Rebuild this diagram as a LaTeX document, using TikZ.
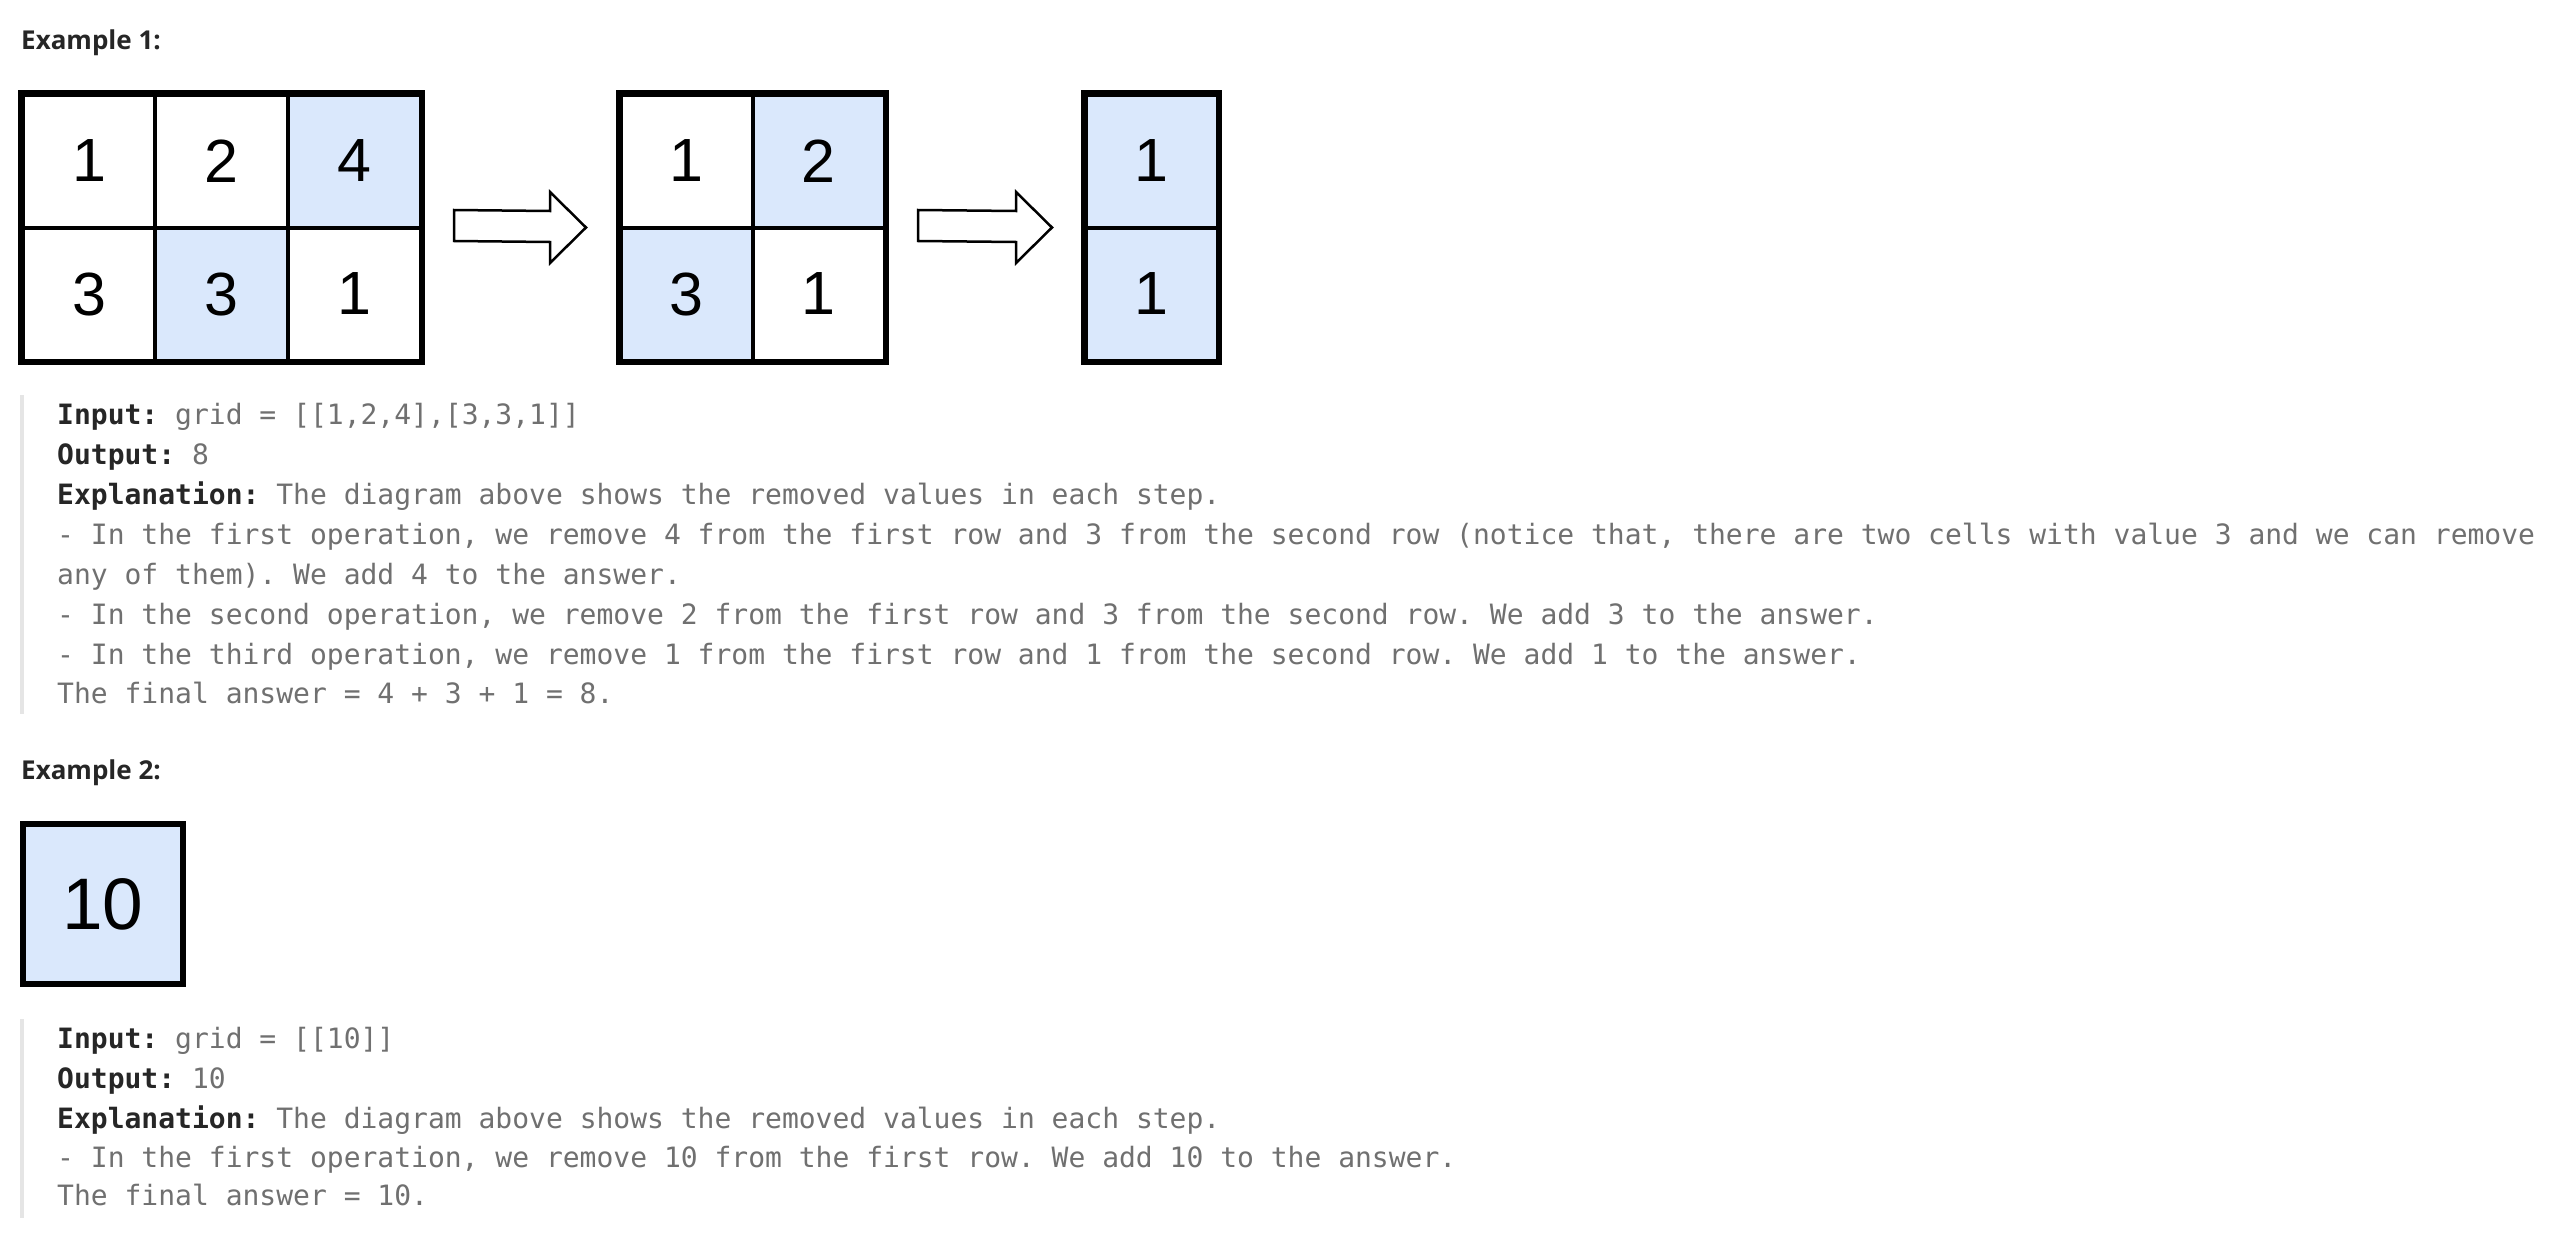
\documentclass[tikz,border=0pt]{standalone}
\usepackage{fontspec}
\setmainfont{Liberation Sans}
\newfontfamily\headfont{Open Sans}
\newfontfamily\codefont{DejaVu Sans Mono}
\newfontfamily\cellfont{Liberation Sans}
\definecolor{cellblue}{RGB}{218,232,252}
\definecolor{txtgray}{RGB}{112,112,112}
\definecolor{txtdark}{RGB}{38,38,38}
\definecolor{bargray}{RGB}{229,229,229}
\frenchspacing
\tikzset{
  heading/.style={anchor=base west,inner sep=0pt,font=\headfont\bfseries\fontsize{26}{26}\selectfont,text=txtdark},
  codeline/.style={anchor=base west,inner sep=0pt,font=\codefont\fontsize{28}{28}\selectfont,text=txtgray},
  cellbox/.style={draw=black,line width=4pt,minimum width=132.7pt,minimum height=133pt,inner sep=0pt,font=\cellfont\fontsize{61}{61}\selectfont},
  cellbox2/.style={draw=black,line width=4pt,minimum width=132pt,minimum height=133pt,inner sep=0pt,font=\cellfont\fontsize{61}{61}\selectfont},
  blockarrow/.style={draw=black,line width=2.5pt,fill=white,line join=miter},
  quotebar/.style={fill=bargray,draw=none}
}
\newcommand{\lbl}[1]{{\color{txtdark}\bfseries #1}}
\begin{document}
\begin{tikzpicture}[x=1pt,y=-1pt]
\useasboundingbox (0,0) rectangle (2549,1239);
\fill[white] (0,0) rectangle (2549,1239);

% ---------- Example 1 ----------
\node[heading] (h1) at (21,50) {Example 1:};

% grid 1 (3x2)
\node[cellbox,fill=white]     (g11) at (89.2,161) {1};
\node[cellbox,fill=white]     (g12) at (221.8,161) {2};
\node[cellbox,fill=cellblue]  (g13) at (354.2,161) {4};
\node[cellbox,fill=white]     (g21) at (89.2,294) {3};
\node[cellbox,fill=cellblue]  (g22) at (221.8,294) {3};
\node[cellbox,fill=white]     (g23) at (354.2,294) {1};
\draw[line width=5pt] (g11.north west) rectangle (g23.south east);

% arrow 1
\draw[blockarrow] (454,210) -- (550,211) -- (550,192) -- (586,227.5) -- (550,263) -- (550,242) -- (454,241) -- cycle;

% grid 2 (2x2)
\node[cellbox2,fill=white]    (m11) at (686.5,161) {1};
\node[cellbox2,fill=cellblue] (m12) at (818.5,161) {2};
\node[cellbox2,fill=cellblue] (m21) at (686.5,294) {3};
\node[cellbox2,fill=white]    (m22) at (818.5,294) {1};
\draw[line width=5pt] (m11.north west) rectangle (m22.south east);

% arrow 2
\draw[blockarrow] (918,210) -- (1016,211) -- (1016,192) -- (1052,227.5) -- (1016,263) -- (1016,242) -- (918,241) -- cycle;

% grid 3 (1x2)
\node[cellbox2,fill=cellblue] (r11) at (1151.5,161) {1};
\node[cellbox2,fill=cellblue] (r21) at (1151.5,294) {1};
\draw[line width=5pt] (r11.north west) rectangle (r21.south east);

% text block 1
\fill[quotebar] (20,395) rectangle (24,714);
\node[codeline] (a1) at (57,424) {\lbl{Input:} grid = [[1,2,4],[3,3,1]]};
\node[codeline] (a2) at (57,464) {\lbl{Output:} 8};
\node[codeline] (a3) at (57,504) {\lbl{Explanation:} The diagram above shows the removed values in each step.};
\node[codeline] (a4) at (57,544) {- In the first operation, we remove 4 from the first row and 3 from the second row (notice that, there are two cells with value 3 and we can remove};
\node[codeline] (a5) at (57,584) {any of them). We add 4 to the answer.};
\node[codeline] (a6) at (57,624) {- In the second operation, we remove 2 from the first row and 3 from the second row. We add 3 to the answer.};
\node[codeline] (a7) at (57,664) {- In the third operation, we remove 1 from the first row and 1 from the second row. We add 1 to the answer.};
\node[codeline] (a8) at (57,703) {The final answer = 4 + 3 + 1 = 8.};

% ---------- Example 2 ----------
\node[heading] (h2) at (21,779) {Example 2:};
\node[draw=black,line width=6pt,fill=cellblue,minimum width=160pt,minimum height=160pt,inner sep=0pt,
      font=\cellfont\fontsize{73}{73}\selectfont] (s11) at (103,904) {10};

\fill[quotebar] (20,1019) rectangle (24,1218);
\node[codeline] (b1) at (57,1048) {\lbl{Input:} grid = [[10]]};
\node[codeline] (b2) at (57,1088) {\lbl{Output:} 10};
\node[codeline] (b3) at (57,1128) {\lbl{Explanation:} The diagram above shows the removed values in each step.};
\node[codeline] (b4) at (57,1167) {- In the first operation, we remove 10 from the first row. We add 10 to the answer.};
\node[codeline] (b5) at (57,1205) {The final answer = 10.};
\end{tikzpicture}
\end{document}
